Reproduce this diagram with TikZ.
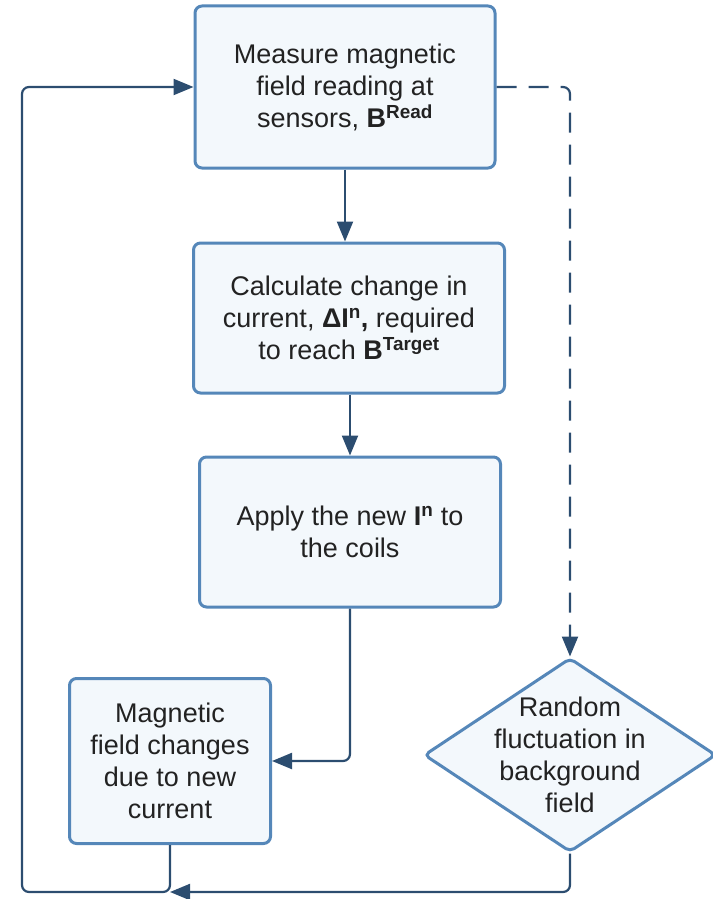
\documentclass[tikz,border=0pt]{standalone}
\usepackage{fontspec}
\setmainfont{Liberation Sans}
\usetikzlibrary{shapes.geometric,arrows.meta}
\definecolor{bordc}{HTML}{5587B9}
\definecolor{fillc}{HTML}{F3F8FC}
\definecolor{linec}{HTML}{2C4D70}
\definecolor{txtc}{HTML}{222222}
\begin{document}
\begin{tikzpicture}[x=1pt,y=-1pt,
  box/.style={draw=bordc, fill=fillc, line width=3pt, rounded corners=7pt, align=center,
    text=txtc, font=\fontsize{27}{32}\selectfont, inner sep=0pt},
  dia/.style={diamond, draw=bordc, fill=fillc, line width=3pt, rounded corners=5pt,
    inner sep=0pt},
  txt/.style={align=center, text=txtc, font=\fontsize{27}{32}\selectfont, inner sep=0pt},
  conn/.style={draw=linec, line width=2.2pt, rounded corners=7pt,
    -{Triangle[length=20pt,width=16pt]}},
  connd/.style={conn, dash pattern=on 20pt off 12pt},
]
\useasboundingbox (0,0) rectangle (712,899);

\node[box, minimum width=300pt, minimum height=162pt] (measure) at (345,87)
  {Measure magnetic\\field reading at\\sensors, \textbf{B}\textsuperscript{\textbf{Read}}};
\node[box, minimum width=311pt, minimum height=150pt] (calc) at (349,318)
  {Calculate change in\\current, \textbf{ΔI\textsuperscript{n},} required\\to reach \textbf{B}\textsuperscript{\textbf{Target}}};
\node[box, minimum width=301pt, minimum height=150pt] (apply) at (350,532)
  {Apply the new \textbf{I\textsuperscript{n}} to\\the coils};
\node[box, minimum width=201pt, minimum height=165pt] (field) at (170,761)
  {Magnetic\\field changes\\due to new\\current};
\node[dia, minimum width=292pt, minimum height=194pt] (random) at (570,755) {};
\node[txt] (randomtxt) at (random.center) {Random\\fluctuation in\\background\\field};

\coordinate (join) at (170,892);

\draw[conn] (measure.south -| 345,0) -- (calc.north -| 345,0);
\draw[conn] (calc.south -| apply.north) -- (apply.north);
\draw[conn] (apply.south) |- (field.east);
\draw[connd] (measure.east) -| (random.north);
\draw[conn] (random.south) |- (join);
\draw[conn] (field.south) |- (22,892) |- (measure.west);
\end{tikzpicture}
\end{document}
